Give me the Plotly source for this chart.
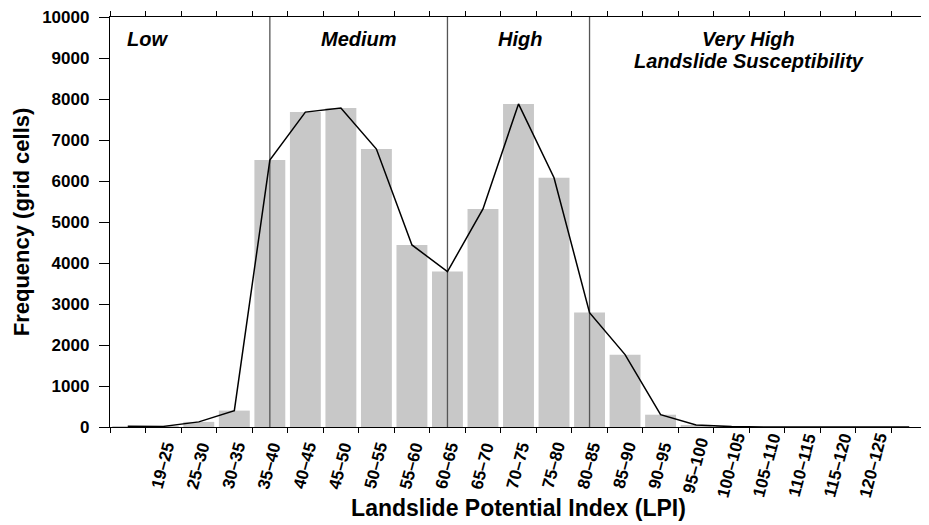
import plotly.graph_objects as go

# ---- data ----
categories = [" ", "19–25", "25–30", "30–35", "35–40", "40–45", "45–50", "50–55",
              "55–60", "60–65", "65–70", "70–75", "75–80", "80–85", "85–90",
              "90–95", "95–100", "100–105", "105–110", "110–115", "115–120",
              "120–125", "  "]
frequency = [20, 15, 125, 400, 6510, 7680, 7780, 6780, 4440, 3790, 5320, 7880,
             6080, 2790, 1765, 300, 50, 10, 0, 0, 0, 0, 0]
class_boundaries = ["35–40", "60–65", "80–85"]
y_max = 10000
class_labels = ["Low", "Medium", "High", "Very High", "Landslide Susceptibility"]

FONT = "Liberation Sans, Arial, sans-serif"
OFF = 8  # page body margin offset

fig = go.Figure()
fig.add_trace(go.Bar(x=categories, y=frequency, marker=dict(color="#c8c8c8", line=dict(width=0)),
                     showlegend=False))
for c in class_boundaries:
    fig.add_trace(go.Scatter(x=[c, c], y=[0, y_max], mode="lines",
                             line=dict(color="#555555", width=1.3), showlegend=False))
fig.add_trace(go.Scatter(x=categories, y=frequency, mode="lines",
                         line=dict(color="black", width=1.5), showlegend=False))

# target plot area in page pixels
W0, W1 = 110, 927
T0, T1 = 17, 427.5
def px(x):
    return (x - W0) / (W1 - W0)
def py(y):
    return (T1 - y) / (T1 - T0)

ann_font = dict(family=FONT, size=20, color="black", weight="bold", style="italic")
ann_specs = [
    (class_labels[0], 125, 39, "left"),
    (class_labels[1], 359, 39, "center"),
    (class_labels[2], 520, 39, "center"),
    (class_labels[3], 748, 39, "center"),
    (class_labels[4], 749, 61, "center"),
]
for text, x, y, anchor in ann_specs:
    fig.add_annotation(text=text, x=px(x), y=py(y), xref="paper", yref="paper",
                       xanchor=anchor, yanchor="middle", showarrow=False, font=ann_font)

# rotated category labels, centred under each bar
tick_font = dict(family=FONT, size=17, color="black", weight="bold")
for c in categories:
    if c.strip():
        fig.add_annotation(text=c, x=c, xref="x", y=py(466.5), yref="paper",
                           xanchor="center", yanchor="middle", textangle=-75,
                           showarrow=False, font=tick_font)

fig.update_layout(
    width=929, height=525,
    margin=dict(l=W0 - OFF, r=929 - (W1 - OFF), t=T0 - OFF, b=525 - (T1 - OFF)),
    plot_bgcolor="white", paper_bgcolor="white",
    bargap=0.13,
    font=dict(family=FONT, color="black"),
)
fig.update_xaxes(
    type="category", categoryorder="array", categoryarray=categories,
    tickson="boundaries", ticks="outside", ticklen=5, tickwidth=1.2, tickcolor="black",
    showline=True, linecolor="black", linewidth=1.3, mirror="ticks",
    showgrid=False, zeroline=False, showticklabels=False, automargin=False,
    title=dict(text="Landslide Potential Index (LPI)",
               font=dict(family=FONT, size=23, color="black", weight="bold"), standoff=72),
)
fig.update_yaxes(
    range=[0, y_max], dtick=1000, tickformat="d", ticks="outside", ticklen=10,
    tickwidth=1.2, tickcolor="black",
    showline=True, linecolor="black", linewidth=1.3, mirror="ticks",
    showgrid=False, zeroline=False, ticklabelstandoff=6, automargin=False,
    ticklabeloverflow="allow",
    tickfont=dict(family=FONT, size=17, color="black", weight="bold"),
    title=dict(text="Frequency (grid cells)",
               font=dict(family=FONT, size=22, color="black", weight="bold"), standoff=6),
)

fig.write_html("out.html")
